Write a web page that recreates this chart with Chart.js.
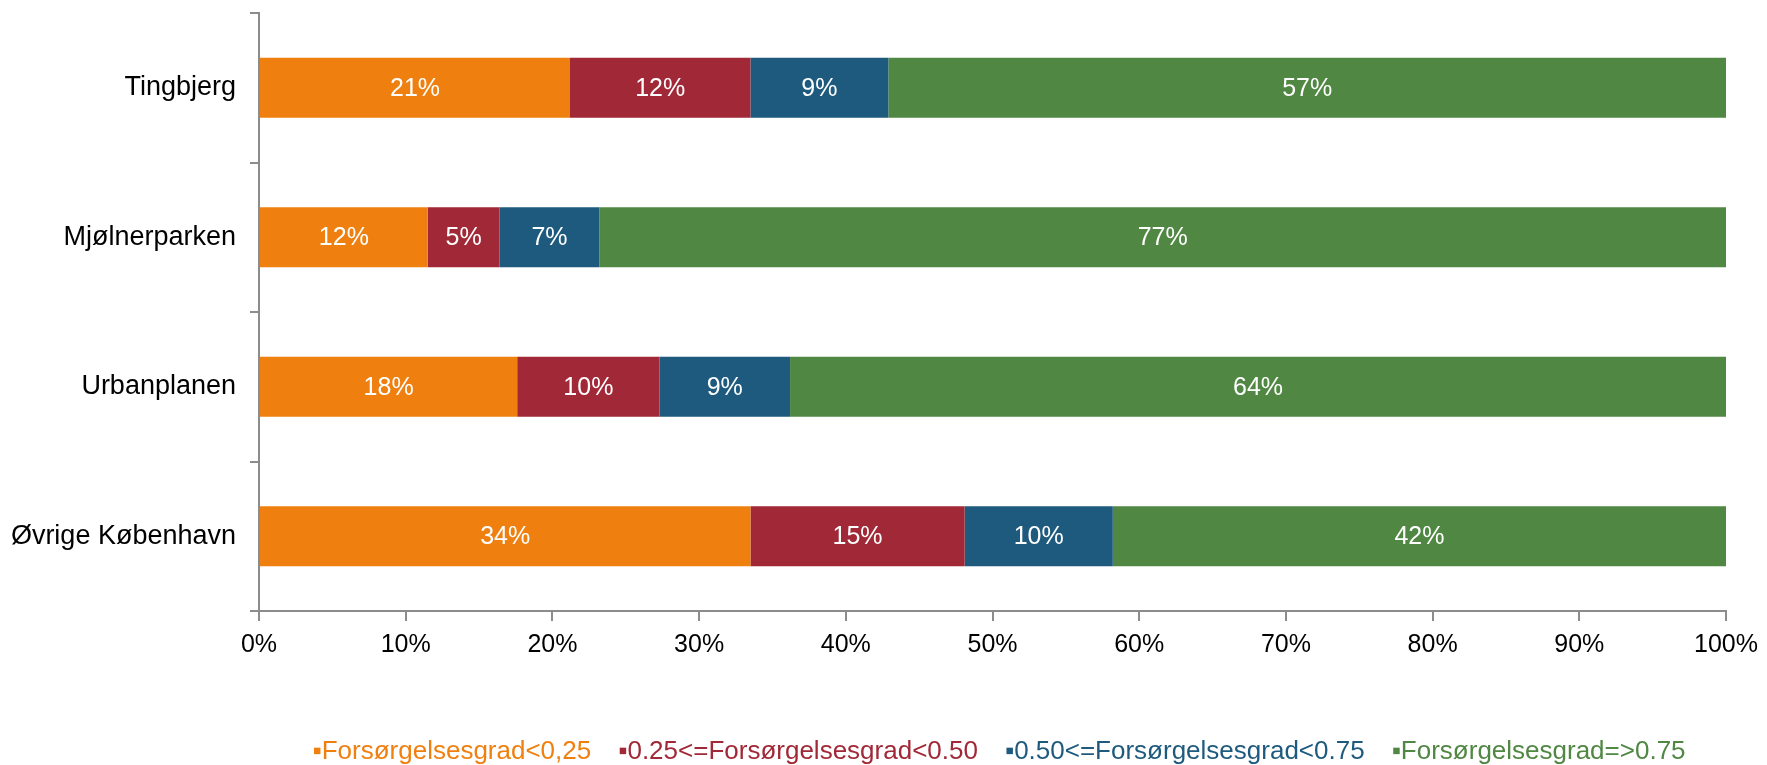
<!DOCTYPE html>
<html>
<head>
<meta charset="utf-8">
<script src="https://cdn.jsdelivr.net/npm/chart.js@4/dist/chart.umd.min.js"></script>
<style>
  html, body { margin: 0; padding: 0; background: #fff; }
  #wrap { width: 1767px; height: 765px; position: relative; }
</style>
</head>
<body>
<div id="wrap"><canvas id="chart"></canvas></div>
<script>
const categories = ['Tingbjerg', 'Mjølnerparken', 'Urbanplanen', 'Øvrige København'];
const seriesNames = ['Forsørgelsesgrad<0,25', '0.25<=Forsørgelsesgrad<0.50', '0.50<=Forsørgelsesgrad<0.75', 'Forsørgelsesgrad=>0.75'];
const seriesColors = ['#EF800F', '#A12937', '#1E5A7E', '#4F8743'];
const lowShare = [21.2, 11.5, 17.6, 33.5];
const lowMidShare = [12.3, 4.9, 9.7, 14.6];
const highMidShare = [9.4, 6.8, 8.9, 10.1];
const highShare = [57.1, 76.8, 63.8, 41.8];
const xTicks = [0, 10, 20, 30, 40, 50, 60, 70, 80, 90, 100];

const FONT = "'Liberation Sans', Arial, sans-serif";
const axisGrey = '#8c8c8c';

// white percentage labels in the middle of each segment
const segmentLabels = {
    id: 'segmentLabels',
    afterDatasetsDraw(chart) {
        const ctx = chart.ctx;
        ctx.save();
        ctx.font = `25px ${FONT}`;
        ctx.fillStyle = '#fff';
        ctx.textAlign = 'center';
        ctx.textBaseline = 'middle';
        chart.data.datasets.forEach((ds, i) => {
            chart.getDatasetMeta(i).data.forEach((bar, j) => {
                const p = bar.getProps(['x', 'y', 'base'], true);
                ctx.fillText(Math.round(ds.data[j]) + '%', (p.x + p.base) / 2, p.y + 1);
            });
        });
        ctx.restore();
    }
};

const datasets = [lowShare, lowMidShare, highMidShare, highShare].map((vals, i) => ({
    label: seriesNames[i],
    data: vals,
    backgroundColor: seriesColors[i],
    borderWidth: 0,
    barPercentage: 0.4,
    categoryPercentage: 1
}));

new Chart(document.getElementById('chart'), {
    type: 'bar',
    data: { labels: categories, datasets },
    plugins: [segmentLabels],
    options: {
        indexAxis: 'y',
        responsive: true,
        maintainAspectRatio: false,
        animation: false,
        layout: { padding: { top: 13, right: 38, left: 0, bottom: -10 } },
        scales: {
            x: {
                stacked: true,
                min: 0, max: 100,
                afterBuildTicks: s => { s.ticks = xTicks.map(v => ({ value: v })); },
                afterFit: s => { s.height = 114; },
                border: { color: axisGrey, width: 2 },
                grid: { drawOnChartArea: false, drawTicks: true, tickLength: 10, color: axisGrey, lineWidth: 2 },
                ticks: { color: '#000', font: { family: FONT, size: 25 }, padding: 9, maxRotation: 0, callback: v => v + '%' }
            },
            y: {
                stacked: true,
                afterFit: s => { s.width = 259; s.paddingTop = 0; s.paddingBottom = 0; },
                border: { color: axisGrey, width: 2 },
                grid: { offset: true, drawOnChartArea: false, drawTicks: true, tickLength: 9, color: axisGrey, lineWidth: 2 },
                ticks: { color: '#000', font: { family: FONT, size: 27 }, padding: 14 }
            }
        },
        plugins: {
            tooltip: { enabled: false },
            legend: {
                position: 'bottom',
                fullSize: false,
                labels: {
                    font: { family: FONT, size: 26 },
                    boxWidth: 0,
                    padding: 14,
                    generateLabels: chart => chart.data.datasets.map((ds, i) => ({
                        text: '▪' + ds.label,
                        fontColor: seriesColors[i],
                        fillStyle: 'transparent',
                        strokeStyle: 'transparent',
                        lineWidth: 0,
                        hidden: false,
                        datasetIndex: i
                    }))
                }
            }
        }
    }
});
</script>
</body>
</html>
